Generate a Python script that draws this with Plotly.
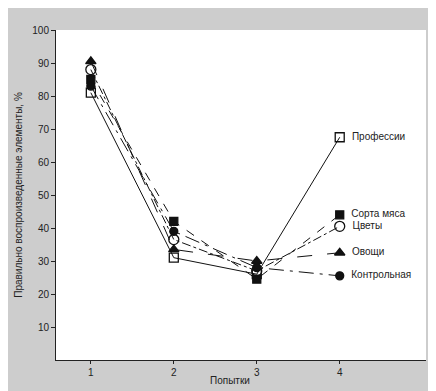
import plotly.graph_objects as go

attempts = [1, 2, 3, 4]
series_names = ["Профессии", "Сорта мяса", "Цветы", "Овощи", "Контрольная"]
professii = [81, 31, 26, 67.5]
sorta_myasa = [85, 42, 24.5, 44]
cvety = [88, 36.5, 27, 40.5]
ovoshchi = [90.5, 33.5, 30, 32.5]
kontrolnaya = [83, 39, 28, 25.5]
y_ticks = [10, 20, 30, 40, 50, 60, 70, 80, 90, 100]

values = [professii, sorta_myasa, cvety, ovoshchi, kontrolnaya]
symbols = ["square-open", "square", "circle-open", "triangle-up", "circle"]
dashes = ["solid", "dash", "dashdot", "longdash", "longdashdot"]
sizes = [9, 8, 10, 9, 8]

font_fam = "Liberation Sans Narrow, Arial Narrow, Liberation Sans, sans-serif"

fig = go.Figure()
for name, vals, sym, dash, sz in zip(series_names, values, symbols, dashes, sizes):
    fig.add_trace(go.Scatter(
        x=attempts, y=vals, name=name,
        mode="lines+markers+text",
        text=["", "", "", "  " + name],
        textposition="middle right",
        textfont=dict(family=font_fam, size=10, color="#222"),
        line=dict(color="#111", width=1, dash=dash),
        marker=dict(symbol=sym, size=sz, color="#111",
                    line=dict(color="#111", width=1.3)),
        cliponaxis=False,
        showlegend=False,
    ))

fig.update_layout(
    width=436, height=391,
    margin=dict(l=48, r=18, t=22, b=39, autoexpand=False),
    paper_bgcolor="#cdcdcd",
    plot_bgcolor="#ffffff",
    font=dict(family=font_fam, size=10, color="#222"),
    xaxis=dict(
        range=[0.58, 5.04], tickvals=attempts, ticktext=[str(a) for a in attempts],
        showgrid=False, zeroline=False, showline=True, linecolor="#222", linewidth=1,
        ticks="outside", ticklen=3, tickcolor="#222", automargin=False,
    ),
    yaxis=dict(
        range=[0, 100], tickvals=y_ticks,
        showgrid=False, zeroline=False, showline=True, linecolor="#222", linewidth=1,
        ticks="outside", ticklen=4, tickcolor="#222", automargin=False,
        title=dict(text="Правильно воспроизведенные элементы, %", font=dict(size=10), standoff=7),
    ),
    annotations=[dict(
        text="Попытки", xref="paper", yref="paper", x=0.5 - 0.03, y=-0.061,
        showarrow=False, font=dict(size=10, family=font_fam, color="#222"),
        xanchor="center", yanchor="middle",
    )],
)

fig.write_html("out.html")
